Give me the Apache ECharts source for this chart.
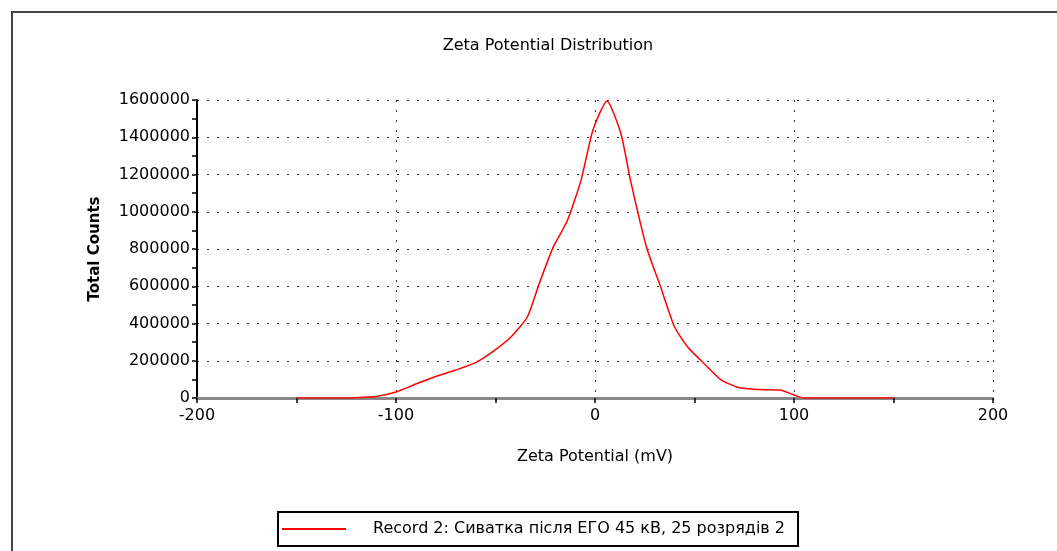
<!DOCTYPE html>
<html>
<head>
<meta charset="utf-8">
<style>
  html, body { margin: 0; padding: 0; background: #fff; }
  #chart { width: 1057px; height: 551px; }
</style>
<script src="https://cdn.jsdelivr.net/npm/echarts@6/dist/echarts.min.js"></script>
</head>
<body>
<div id="chart"></div>
<script>
// zeta potential (mV) and total counts
var zeta = [-150, -130, -120, -110, -100, -90, -80, -70, -60, -50, -42, -34, -28, -21, -14, -7, -1, 6, 13, 18, 26, 33, 40, 47, 54, 63, 72, 82, 93, 100, 105, 120, 150];
var counts = [0, 500, 2000, 8000, 32000, 75000, 115000, 150000, 190000, 260000, 330000, 435000, 615000, 810000, 950000, 1170000, 1440000, 1595000, 1420000, 1160000, 805000, 596000, 381000, 268000, 193000, 100000, 56000, 45000, 43000, 16000, 0, 0, 0];
var seriesName = 'Record 2: Сиватка після ЕГО 45 кВ, 25 розрядів 2';

var points = zeta.map(function (x, i) { return [x, counts[i]]; });

var chart = echarts.init(document.getElementById('chart'));
var font = 'DejaVu Sans, sans-serif';
var dotted = { color: '#333', width: 1, type: [2, 8] };

chart.setOption({
  animation: false,
  backgroundColor: '#fff',
  title: {
    text: 'Zeta Potential Distribution',
    left: 543,
    top: 33,
    textAlign: 'center',
    textStyle: { fontFamily: font, fontSize: 16, fontWeight: 'normal', color: '#000' }
  },
  grid: { left: 197, right: 64, top: 100, bottom: 153, containLabel: false },
  legend: {
    left: 278,
    top: 512,
    padding: [9, 13, 9, 4],
    borderColor: '#000',
    borderWidth: 2,
    icon: 'rect',
    itemWidth: 64,
    itemHeight: 2,
    itemStyle: { color: '#ff0000' },
    textStyle: { fontFamily: font, fontSize: 16, color: '#000', padding: [0, 0, 0, 22] },
    data: [seriesName]
  },
  xAxis: {
    type: 'value',
    min: -200,
    max: 200,
    interval: 100,
    name: 'Zeta Potential (mV)',
    nameLocation: 'middle',
    nameGap: 51,
    nameTextStyle: { fontFamily: font, fontSize: 16, color: '#000' },
    axisLine: { onZero: false, lineStyle: { color: '#888', width: 3 } },
    axisTick: { show: true, length: 5, lineStyle: { color: '#000', width: 1.5 } },
    minorTick: { show: true, splitNumber: 2, length: 5, lineStyle: { color: '#000', width: 1.5 } },
    axisLabel: { fontFamily: font, fontSize: 16, color: '#000', margin: 10 },
    splitLine: { show: true, lineStyle: dotted }
  },
  yAxis: {
    type: 'value',
    min: 0,
    max: 1600000,
    interval: 200000,
    name: 'Total Counts',
    nameLocation: 'middle',
    nameRotate: 90,
    nameGap: 94,
    nameTextStyle: { fontFamily: font, fontSize: 15, fontWeight: 'bold', color: '#000' },
    axisLine: { show: true, onZero: false, lineStyle: { color: '#000', width: 2 } },
    axisTick: { show: true, length: 5, lineStyle: { color: '#000', width: 1.5 } },
    minorTick: { show: true, splitNumber: 2, length: 5, lineStyle: { color: '#000', width: 1.5 } },
    axisLabel: {
      fontFamily: font, fontSize: 16, color: '#000', margin: 7,
      formatter: function (v) { return String(v); }
    },
    splitLine: { show: true, lineStyle: dotted }
  },
  graphic: [{
    type: 'rect',
    shape: { x: 12, y: 12, width: 1100, height: 600 },
    style: { fill: 'none', stroke: '#444', lineWidth: 2 },
    silent: true
  }],
  series: [{
    name: seriesName,
    type: 'line',
    data: points,
    showSymbol: false,
    smooth: 0.2,
    lineStyle: { color: '#ff0000', width: 1.5 },
    itemStyle: { color: '#ff0000' }
  }]
});
</script>
</body>
</html>
